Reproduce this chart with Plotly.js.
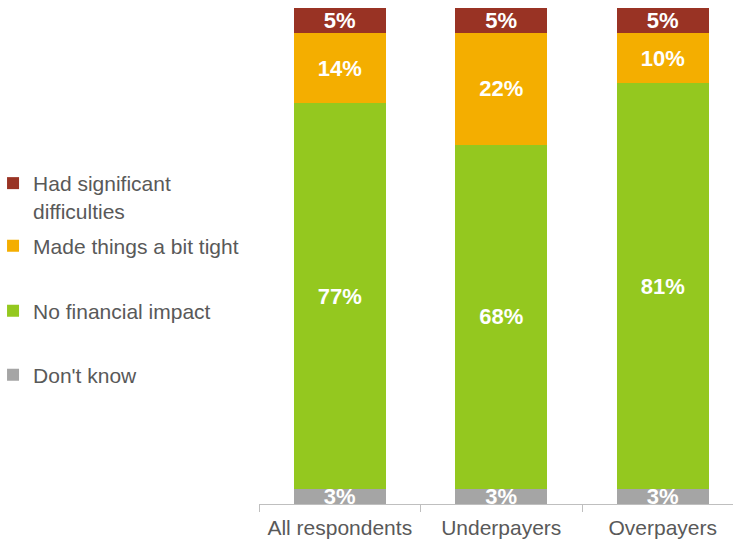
<!DOCTYPE html>
<html>
<head>
<meta charset="utf-8">
<script src="https://cdn.plot.ly/plotly-3.0.1.min.js"></script>
<style>html,body{margin:0;padding:0;background:#fff;}#chart{width:733px;height:542px;}</style>
</head>
<body>
<div id="chart"></div>
<script>
var categories = ["All respondents", "Underpayers", "Overpayers"];
var dontKnow = [3, 3, 3];
var noImpact = [77, 68, 81];
var bitTight = [14, 22, 10];
var significant = [5, 5, 5];
var seriesNames = ["Don't know", "No financial impact", "Made things a bit tight", "Had significant<br>difficulties"];
var seriesColors = ["#A5A5A5", "#94C81F", "#F4AE00", "#993324"];
var seriesValues = [dontKnow, noImpact, bitTight, significant];

var legendIds = ["legend4", "legend3", "legend2", "legend"];
var legendY = [0.2601, 0.3891, 0.5202, 0.619];

var traces = seriesValues.map(function (vals, i) {
  return {
    type: "bar",
    name: seriesNames[i],
    legend: legendIds[i],
    x: categories,
    y: vals,
    text: vals.map(function (v) { return v + "%"; }),
    textposition: "inside",
    insidetextanchor: "middle",
    textangle: 0,
    textfont: {family: "Liberation Sans, Arial, sans-serif", size: 22, color: "#ffffff", weight: "bold"},
    marker: {color: seriesColors[i], line: {width: 0}},
    hoverinfo: "skip"
  };
});

function legendAt(y) {
  return {
    x: -0.54, xanchor: "left",
    y: y, yanchor: "middle",
    valign: "top",
    itemwidth: 30,
    indentation: -10,
    font: {size: 21, color: "#595959"},
    bgcolor: "rgba(0,0,0,0)"
  };
}

var layout = {
  width: 733, height: 542,
  margin: {l: 259, r: 0, t: 8, b: 38},
  barmode: "stack",
  barnorm: "percent",
  bargap: 0.43,
  paper_bgcolor: "#ffffff",
  plot_bgcolor: "#ffffff",
  font: {family: "Liberation Sans, Arial, sans-serif", size: 21, color: "#595959"},
  uniformtext: {mode: "show", minsize: 22},
  showlegend: true,
  legend: legendAt(legendY[3]),
  legend2: legendAt(legendY[2]),
  legend3: legendAt(legendY[1]),
  legend4: legendAt(legendY[0]),
  xaxis: {
    type: "category",
    range: [-0.5, 2.435],
    showline: true, linecolor: "#BFBFBF", linewidth: 1,
    ticks: "outside", tickson: "boundaries", ticklen: 7, tickcolor: "#BFBFBF",
    ticklabelstandoff: 5,
    showgrid: false, zeroline: false,
    tickfont: {size: 21, color: "#595959"},
    fixedrange: true
  },
  yaxis: {
    range: [0, 100],
    visible: false,
    showgrid: false, zeroline: false,
    fixedrange: true
  }
};

Plotly.newPlot("chart", traces, layout, {displayModeBar: false, staticPlot: true});
</script>
</body>
</html>
